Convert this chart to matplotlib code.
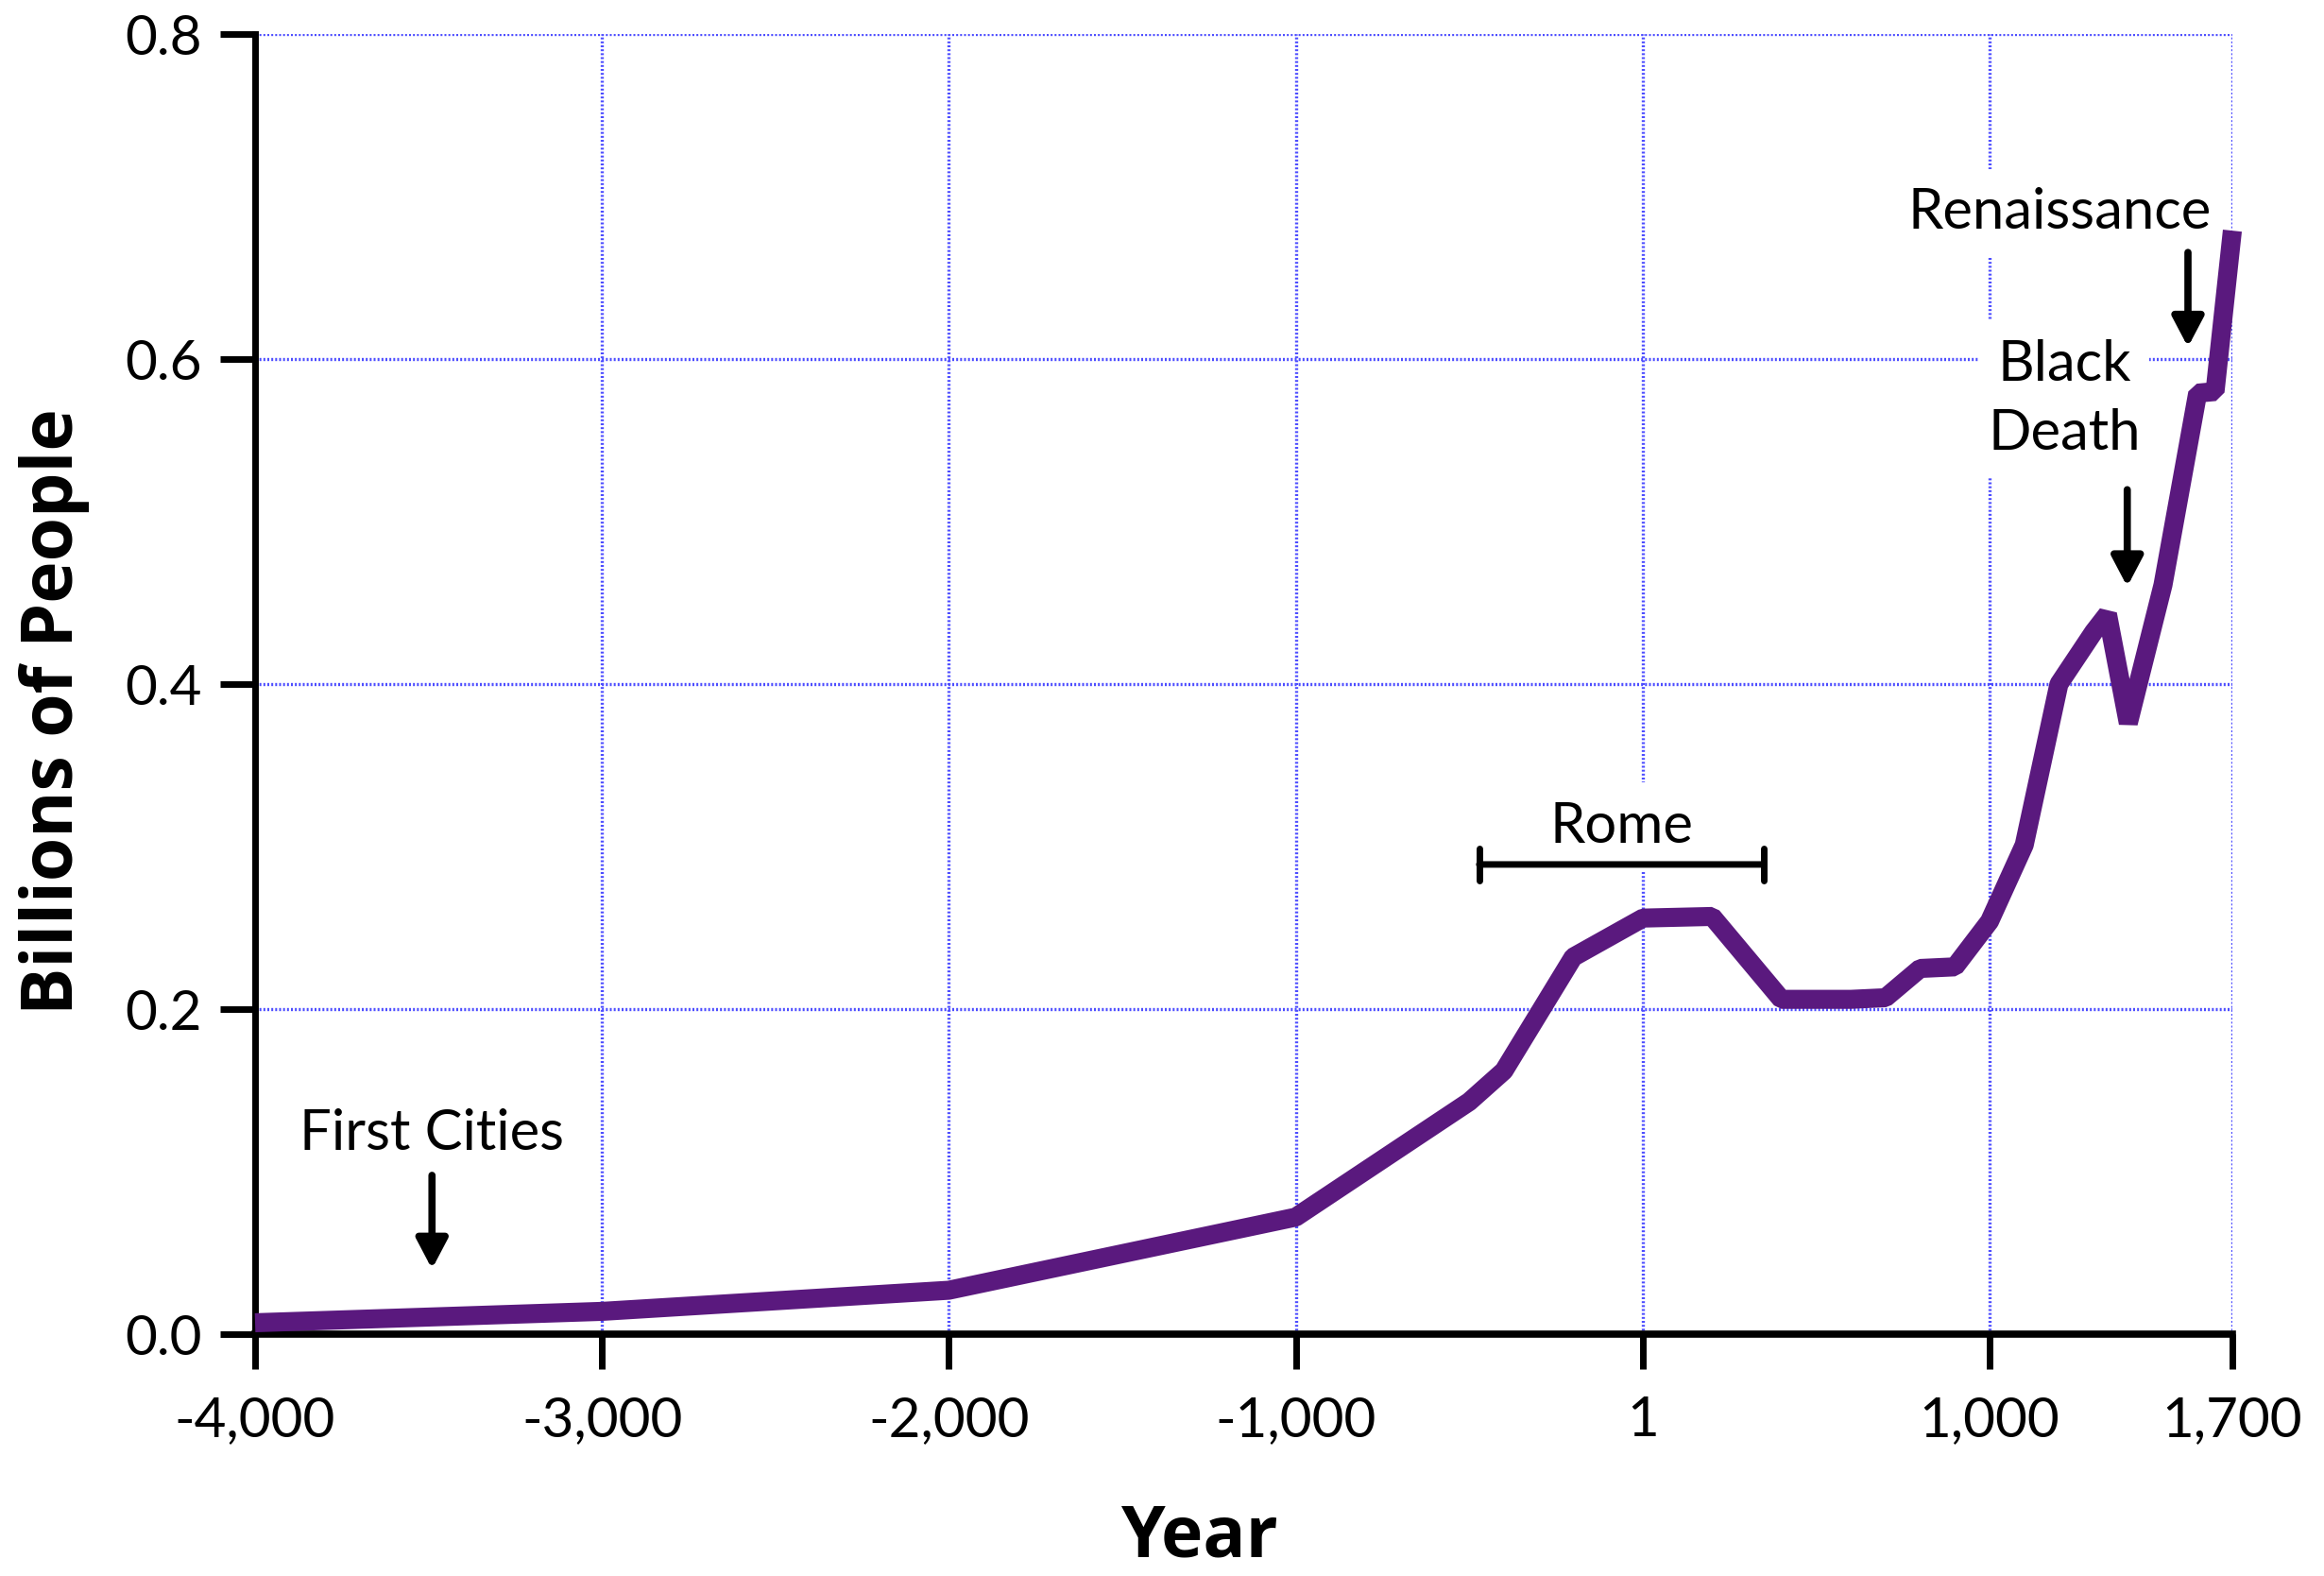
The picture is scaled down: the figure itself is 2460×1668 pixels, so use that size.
import matplotlib
matplotlib.use('Agg')
import matplotlib.pyplot as plt

# ---- data (world population, billions) ----
years = [-4000, -3000, -2000, -1000, -500, -400, -200, 1, 200, 400, 500, 600,
         700, 800, 900, 1000, 1100, 1200, 1250, 1300, 1340, 1400, 1500, 1600,
         1650, 1700]
population = [0.007, 0.014, 0.027, 0.072, 0.143, 0.162, 0.232, 0.256, 0.257,
              0.206, 0.206, 0.206, 0.207, 0.225, 0.226, 0.254, 0.301, 0.400,
              0.416, 0.432, 0.443, 0.376, 0.461, 0.579, 0.580, 0.679]

x_ticks = [-4000, -3000, -2000, -1000, 1, 1000, 1700]
x_tick_labels = ['-4,000', '-3,000', '-2,000', '-1,000', '1', '1,000', '1,700']
y_ticks = [0.0, 0.2, 0.4, 0.6, 0.8]
y_tick_labels = ['0.0', '0.2', '0.4', '0.6', '0.8']

plt.rcParams['font.family'] = ['Lato', 'DejaVu Sans']

W, H = 2460, 1668
fig = plt.figure(figsize=(W / 100, H / 100), dpi=100)
ax = fig.add_axes([270 / W, 1 - 1412 / H, (2363 - 270) / W, (1412 - 36) / H])

ax.plot(years, population, color='#5a197e', lw=14.5,
        solid_joinstyle='bevel', solid_capstyle='butt', clip_on=False, zorder=3.5)

ax.set_xlim(-4000, 1700)
ax.set_ylim(0, 0.8)
ax.set_xticks(x_ticks)
ax.set_xticklabels(x_tick_labels)
ax.set_yticks(y_ticks)
ax.set_yticklabels(y_tick_labels)

ax.set_axisbelow(True)
ax.grid(True, color='#4d4dff', lw=2.4, linestyle=(0, (0.6, 0.65)))

for s in ['top', 'right']:
    ax.spines[s].set_visible(False)
ax.spines['left'].set_linewidth(5)
ax.spines['bottom'].set_linewidth(5.5)

ax.tick_params(axis='both', length=26.6, width=5, direction='out',
               labelsize=42, color='black')
ax.tick_params(axis='y', pad=14)
ax.tick_params(axis='x', pad=20)

ax.set_xlabel('Year', fontsize=54, fontweight='bold', family=['Open Sans', 'DejaVu Sans'],
              va='baseline', ha='center')
ax.xaxis.set_label_coords(0.4773, -0.1715)
ax.set_ylabel('Billions of People', fontsize=54, fontweight='bold',
              family=['Open Sans', 'DejaVu Sans'], va='center', ha='center')
ax.yaxis.set_label_coords(-0.1013, 0.479)

box = dict(facecolor='white', edgecolor='none', pad=14)
arrow = dict(arrowstyle='-|>,head_length=0.95,head_width=0.5', lw=5.5,
             color='black', mutation_scale=20, shrinkA=0, shrinkB=0)

# First Cities
ax.text(-3490, 0.1135, 'First Cities', ha='center', va='baseline', fontsize=43,
        bbox=box, zorder=3)
ax.annotate('', xy=(-3490, 0.0401), xytext=(-3490, 0.0977), arrowprops=arrow, zorder=4)

# Rome
ax.text(-60, 0.3025, 'Rome', ha='center', va='baseline', fontsize=43, bbox=box, zorder=3)
ax.annotate('', xy=(349, 0.289), xytext=(-471, 0.289),
            arrowprops=dict(arrowstyle='|-|,widthA=1.0,widthB=1.0', lw=5,
                            color='black', mutation_scale=12.25,
                            shrinkA=0, shrinkB=0), zorder=5)

# Black Death
ax.text(1215, 0.5866, 'Black', ha='center', va='baseline', fontsize=43, bbox=box, zorder=3)
ax.text(1215, 0.544, 'Death', ha='center', va='baseline', fontsize=43, bbox=box, zorder=3)
ax.annotate('', xy=(1397, 0.46), xytext=(1397, 0.5196), arrowprops=arrow, zorder=4)

# Renaissance
ax.text(1201, 0.680, 'Renaissance', ha='center', va='baseline', fontsize=43,
        bbox=box, zorder=3)
ax.annotate('', xy=(1572, 0.6074), xytext=(1572, 0.6656), arrowprops=arrow, zorder=4)

fig.savefig('out.png', dpi=100)
